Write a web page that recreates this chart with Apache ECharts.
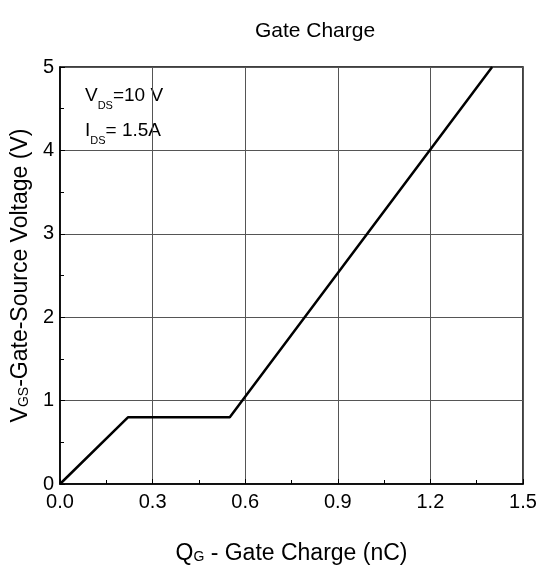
<!DOCTYPE html>
<html><head><meta charset="utf-8">
<script src="https://cdn.jsdelivr.net/npm/echarts@6/dist/echarts.min.js"></script>
<style>html,body{margin:0;padding:0;background:#fff}#c{width:540px;height:568px}</style>
</head><body><div id="c"></div>
<script>
const qg = [0, 0.22, 0.55, 1.4];
const vgs = [0, 0.8, 0.8, 5];
const F = 'Liberation Sans, Arial, sans-serif';
const chart = echarts.init(document.getElementById('c'));
const sub = {fontFamily: F, fontSize: 14, color: '#000', verticalAlign: 'bottom', padding: [0, 0, 1, 0]};
const main = {fontFamily: F, fontSize: 23, color: '#000'};
chart.setOption({
  backgroundColor: '#fff',
  animation: false,
  title: {text: 'Gate Charge', left: 310, top: 16, textAlign: 'center',
    textStyle: {fontFamily: F, fontSize: 21, fontWeight: 'normal', color: '#000'}},
  grid: {left: 60, right: 17, top: 67, bottom: 84, show: true, borderColor: '#000', borderWidth: 1.5,
    containLabel: false, outerBoundsMode: 'none'},
  xAxis: {
    type: 'value', min: 0, max: 1.5, interval: 0.3,
    axisLine: {show: true, lineStyle: {color: '#000', width: 1.5}},
    axisTick: {show: true, inside: true, length: 5, lineStyle: {color: '#000'}},
    minorTick: {show: true, splitNumber: 2, length: 4, lineStyle: {color: '#000'}},
    splitLine: {show: true, lineStyle: {color: '#555', width: 1}},
    axisLabel: {fontFamily: F, fontSize: 20, color: '#000', margin: 8,
      formatter: v => v.toFixed(1)},
    name: '{a|Q}{b|G}{a| - Gate Charge (nC)}', nameLocation: 'middle', nameGap: 58,
    nameTextStyle: {rich: {a: main, b: sub}}
  },
  yAxis: {
    type: 'value', min: 0, max: 5, interval: 1,
    axisLine: {show: true, lineStyle: {color: '#000', width: 1.5}},
    axisTick: {show: true, inside: true, length: 5, lineStyle: {color: '#000'}},
    minorTick: {show: true, splitNumber: 2, length: 4, lineStyle: {color: '#000'}},
    splitLine: {show: true, lineStyle: {color: '#555', width: 1}},
    axisLabel: {fontFamily: F, fontSize: 20, color: '#000', margin: 6},
    name: '{a|V}{b|GS}{a|-Gate-Source Voltage (V)}', nameLocation: 'middle', nameGap: 27,
    nameTextStyle: {rich: {a: main, b: sub}}
  },
  graphic: [
    {type: 'text', left: 85, top: 86, style: {text: '{a|V}{b|DS}{a|=10 V}', rich: {a: {fontFamily: F, fontSize: 19, color: '#000', height: 22}, b: {fontFamily: F, fontSize: 11, color: '#000', verticalAlign: 'bottom', padding: [0,0,-5,0]}}}},
    {type: 'text', left: 85, top: 121, style: {text: '{a|I}{b|DS}{a|= 1.5A}', rich: {a: {fontFamily: F, fontSize: 19, color: '#000', height: 22}, b: {fontFamily: F, fontSize: 11, color: '#000', verticalAlign: 'bottom', padding: [0,0,-5,0]}}}}
  ],
  series: [{type: 'line', data: qg.map((x, i) => [x, vgs[i]]), symbol: 'none',
    lineStyle: {color: '#000', width: 2.5}, clip: true}]
});
</script></body></html>
